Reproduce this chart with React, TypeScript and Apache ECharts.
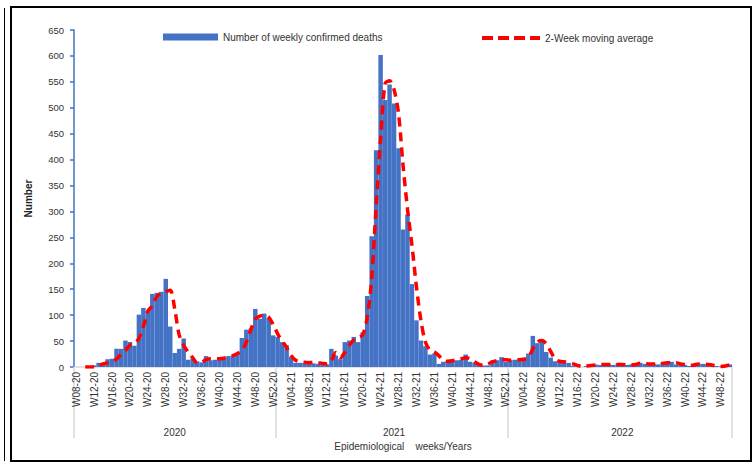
import React, { useEffect, useRef } from "react";
import * as echarts from "echarts";

// Epidemiological weeks per year
const years = ["2020", "2021", "2022"];
const firstWeeks = [8, 1, 1];
const lastWeeks = [52, 52, 50];

// Number of weekly confirmed deaths
const deaths2020 = [
  0, 0, 0, 1, 3, 8, 8, 15, 16, 35, 35, 51, 48, 41, 101, 114, 108, 141, 143, 145,
  170, 78, 27, 35, 55, 14, 16, 11, 9, 21, 13, 14, 15, 15, 21, 22, 26, 56, 72, 74,
  112, 93, 103, 94, 61,
];
const deaths2021 = [
  58, 48, 42, 19, 8, 8, 8, 12, 7, 6, 5, 5, 35, 22, 15, 48, 51, 58, 48, 67,
  137, 252, 418, 602, 515, 545, 508, 422, 265, 294, 160, 90, 51, 40, 24, 26, 6, 10, 10, 12,
  13, 14, 24, 10, 8, 6, 3, 3, 13, 13, 19, 10,
];
const deaths2022 = [
  13, 14, 15, 15, 26, 60, 46, 53, 29, 18, 11, 10, 8, 8, 2, 1, 0, 2, 3, 5,
  4, 6, 5, 4, 7, 3, 4, 5, 6, 8, 6, 5, 6, 5, 9, 7, 10, 5, 6, 4,
  2, 5, 7, 6, 5, 3, 2, 1, 2, 5,
];

// 2-Week moving average
const avg2020 = [
  null, null, 0, 0, 0, 3, 6, 8, 11, 15, 25, 32, 42, 45, 55, 78, 108, 118, 136, 142,
  145, 148, 112, 62, 42, 29, 18, 8, 9, 14, 16, 16, 16, 17, 19, 22, 26, 32, 48, 72,
  92, 98, 100, 96, 82,
];
const avg2021 = [
  64, 50, 38, 22, 13, 10, 9, 8, 9, 8, 7, 6, 12, 28, 18, 28, 42, 52, 57, 62,
  95, 170, 310, 440, 547, 552, 535, 489, 390, 305, 235, 155, 90, 48, 33, 29, 22, 13, 11, 12,
  14, 16, 18, 16, 10, 5, 3, 6, 10, 12, 14, 14,
];
const avg2022 = [
  13, 14, 14, 15, 18, 35, 48, 51, 45, 30, 15, 11, 10, 8, 6, 3, 1, 2, 3, 4,
  5, 5, 5, 5, 5, 5, 4, 4, 5, 7, 7, 6, 6, 6, 7, 8, 8, 8, 6, 5,
  3, 4, 6, 6, 5, 4, 2, 1, 2, 4,
];

const yMin = 0;
const yMax = 650;
const yStep = 50;

const FONT = "'Liberation Sans', Arial, sans-serif";
const DASH_ICON = "path://M0 0H11V4H0Z M16 0H27V4H16Z M32 0H43V4H32Z M48 0H58V4H48Z";

export default function App() {
  const ref = useRef<HTMLDivElement>(null);

  useEffect(() => {
    if (!ref.current) return;
    const chart = echarts.init(ref.current, undefined, { renderer: "svg" });

    const categories: string[] = [];
    const groupStarts: number[] = [];
    const groupCenters: number[] = [];
    years.forEach((y, i) => {
      groupStarts.push(categories.length);
      const n = lastWeeks[i] - firstWeeks[i] + 1;
      groupCenters.push(categories.length + Math.floor(n / 2));
      for (let w = firstWeeks[i]; w <= lastWeeks[i]; w++) {
        categories.push(`W${String(w).padStart(2, "0")}-${y.slice(2)}`);
      }
    });
    const yearOf = (idx: number) => {
      let g = 0;
      groupStarts.forEach((s, i) => {
        if (idx >= s) g = i;
      });
      return years[g];
    };

    const deaths = [...deaths2020, ...deaths2021, ...deaths2022];
    const avg = [...avg2020, ...avg2021, ...avg2022];

    chart.setOption({
      animation: false,
      backgroundColor: "#ffffff",
      textStyle: { fontFamily: FONT },
      grid: { left: 74, right: 23, top: 30, bottom: 96, containLabel: false },
      legend: [
        {
          data: [{ name: "Number of weekly confirmed deaths", icon: "rect" }],
          left: 158,
          top: 27,
          itemWidth: 55,
          itemHeight: 7,
          textStyle: { fontSize: 10, color: "#333", fontFamily: FONT },
          selectedMode: false,
        },
        {
          data: [{ name: "2-Week moving average", icon: DASH_ICON }],
          left: 477,
          top: 28,
          itemWidth: 58,
          itemHeight: 4,
          itemStyle: { color: "#ff0000" },
          textStyle: { fontSize: 10, color: "#333", fontFamily: FONT },
          selectedMode: false,
        },
      ],
      xAxis: [
        {
          type: "category",
          data: categories,
          position: "bottom",
          boundaryGap: true,
          axisLine: { show: true, lineStyle: { color: "#d9d9d9", width: 1.5 } },
          axisTick: { show: false },
          axisLabel: {
            interval: 3,
            rotate: 90,
            fontSize: 10,
            color: "#333",
            margin: 5,
            fontFamily: FONT,
          },
          splitLine: { show: false },
        },
        {
          type: "category",
          data: categories,
          position: "bottom",
          boundaryGap: true,
          axisLine: { show: false },
          axisTick: {
            show: true,
            length: 71,
            interval: (idx: number) => groupStarts.includes(idx),
            lineStyle: { color: "#d9d9d9", width: 1.5 },
          },
          axisLabel: {
            interval: (idx: number) => groupCenters.includes(idx),
            formatter: (_v: string, idx: number) => yearOf(idx),
            margin: 60,
            fontSize: 10,
            color: "#333",
            fontFamily: FONT,
          },
          name: "Epidemiological    weeks/Years",
          nameLocation: "middle",
          nameGap: 69,
          nameTextStyle: { fontSize: 10, color: "#333", fontFamily: FONT },
          splitLine: { show: false },
        },
      ],
      yAxis: {
        type: "value",
        min: yMin,
        max: yMax,
        interval: yStep,
        name: "Number",
        nameLocation: "middle",
        nameGap: 41,
        nameTextStyle: { fontSize: 10, fontWeight: "bold", color: "#222", fontFamily: FONT },
        axisLine: { show: true, lineStyle: { color: "#4472c4", width: 1.5 } },
        axisTick: { show: true, length: 4, lineStyle: { color: "#4472c4", width: 1.5 } },
        axisLabel: { fontSize: 9.5, color: "#333", margin: 10, fontFamily: FONT },
        splitLine: { show: false },
      },
      series: [
        {
          name: "Number of weekly confirmed deaths",
          type: "bar",
          xAxisIndex: 0,
          data: deaths,
          barCategoryGap: "0%",
          itemStyle: { color: "#4472c4" },
          z: 2,
        },
        {
          name: "2-Week moving average",
          type: "line",
          xAxisIndex: 0,
          data: avg,
          smooth: 0.3,
          symbol: "none",
          showSymbol: false,
          connectNulls: false,
          lineStyle: { color: "#ff0000", width: 3.5, type: [9, 6] },
          itemStyle: { color: "#ff0000" },
          z: 3,
        },
      ],
      graphic: [
        {
          type: "rect",
          shape: { x: 11, y: 7, width: 740, height: 454 },
          style: { fill: "none", stroke: "#000", lineWidth: 2 },
          silent: true,
        },
        {
          type: "line",
          shape: { x1: 4.5, y1: 8, x2: 4.5, y2: 461 },
          style: { stroke: "#000", lineWidth: 1 },
          silent: true,
        },
      ],
    });

    return () => chart.dispose();
  }, []);

  return (
    <div
      ref={ref}
      style={{ position: "fixed", left: 0, top: 0, width: 755, height: 463 }}
    />
  );
}
